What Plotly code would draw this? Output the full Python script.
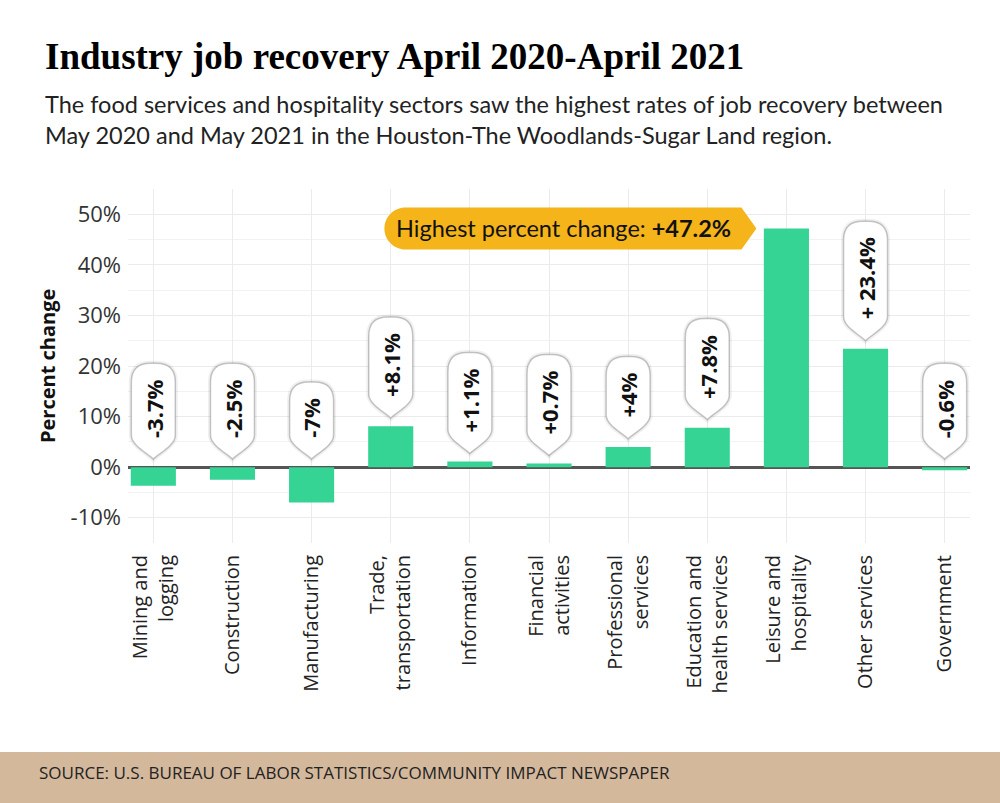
import plotly.graph_objects as go

# data
categories = [
    "Mining and<br>logging", "Construction", "Manufacturing", "Trade,<br>transportation",
    "Information", "Financial<br>activities", "Professional<br>services",
    "Education and<br>health services", "Leisure and<br>hospitality", "Other services", "Government",
]
pct_change = [-3.7, -2.5, -7.0, 8.1, 1.1, 0.7, 4.0, 7.8, 47.2, 23.4, -0.6]
bubble_labels = ["-3.7%", "-2.5%", "-7%", "+8.1%", "+1.1%", "+0.7%", "+4%", "+7.8%", None, "+ 23.4%", "-0.6%"]
highlight_cat = "Leisure and<br>hospitality"
highlight_label = "+47.2%"
y_ticks = [-10, 0, 10, 20, 30, 40, 50]
y_tick_text = ["-10%", "0%", "10%", "20%", "30%", "40%", "50%"]

title = "Industry job recovery April 2020-April 2021"
subtitle = ("The food services and hospitality sectors saw the highest rates of job recovery between<br>"
            "May 2020 and May 2021 in the Houston-The Woodlands-Sugar Land region.")
source = "SOURCE: U.S. BUREAU OF LABOR STATISTICS/COMMUNITY IMPACT NEWSPAPER"

W, H = 1000, 803
ML, MR, MT, MB = 128, 30, 189, 260
PW, PH = W - ML - MR, H - MT - MB

GREEN = "#35D394"
YELLOW = "#F4B41A"
TAN = "#D4B89C"


def px(x):
    return (x - ML) / PW


def py(y):
    return (H - MB - y) / PH


def text_len(s, size):
    w = {"+": 0.57, "-": 0.33, ".": 0.28, " ": 0.27, "%": 0.88}
    return sum(w.get(c, 0.57) for c in s) * size


BFONT = 22
shapes = []
annotations = []

# pin-shaped value bubbles
for cat, v, lab in zip(categories, pct_change, bubble_labels):
    if lab is None:
        continue
    base = max(v, 0)
    g = 8
    h = text_len(lab, BFONT) + 38
    w = 22
    r = 19
    top = g + h
    path = (f"M {-w},{g+24} L {-w},{top-r} Q {-w},{top} {-w+r},{top} "
            f"L {w-r},{top} Q {w},{top} {w},{top-r} L {w},{g+24} "
            f"C {w},{g+14} 6,{g+6} 0,{g} C -6,{g+6} {-w},{g+14} {-w},{g+24} Z")
    for lw, lc in [(5, "rgba(0,0,0,0.06)"), (1.5, "rgba(0,0,0,0.22)")]:
        shapes.append(dict(type="path", xref="x", yref="y", xsizemode="pixel", ysizemode="pixel",
                           xanchor=cat, yanchor=base, path=path,
                           fillcolor="white", line=dict(color=lc, width=lw)))
    annotations.append(dict(x=cat, y=base, text=f"<b>{lab}</b>", textangle=-90,
                            xanchor="center", yanchor="bottom", yshift=g + 19, showarrow=False,
                            font=dict(family="Open Sans", size=BFONT, color="#111")))

# highlight callout
hv = pct_change[categories.index(highlight_cat)]
k = 11.6
callout = (f"M -381,21 L -45,21 L -30,0 L -45,-21 L -381,-21 "
           f"C {-381-k},-21 -402,{-k} -402,0 C -402,{k} {-381-k},21 -381,21 Z")
shapes.append(dict(type="path", xref="x", yref="y", xsizemode="pixel", ysizemode="pixel",
                   xanchor=highlight_cat, yanchor=hv, path=callout,
                   fillcolor=YELLOW, line=dict(width=0)))
annotations.append(dict(x=highlight_cat, y=hv, text=f"Highest percent change: <b>{highlight_label}</b>",
                        xanchor="right", yanchor="middle", xshift=-53, showarrow=False,
                        font=dict(family="Lato", size=23.5, color="#111")))

# footer band
shapes.append(dict(type="rect", xref="paper", yref="paper", x0=px(0), x1=px(W), y0=py(752), y1=py(H),
                   fillcolor=TAN, line=dict(width=0), layer="below"))

annotations += [
    dict(xref="paper", yref="paper", x=px(43), y=py(34), text=title, xanchor="left", yanchor="top",
         showarrow=False, font=dict(family="Liberation Serif", size=37, color="#000", weight="bold")),
    dict(xref="paper", yref="paper", x=px(43), y=py(88), text=subtitle, xanchor="left", yanchor="top",
         align="left", showarrow=False, font=dict(family="Lato", size=23.5, color="#222")),
    dict(xref="paper", yref="paper", x=px(47), y=py(366), text="<b>Percent change</b>", textangle=-90,
         xanchor="center", yanchor="middle", showarrow=False,
         font=dict(family="Open Sans", size=20, color="#111")),
    dict(xref="paper", yref="paper", x=px(37), y=py(772), text=source, xanchor="left", yanchor="middle",
         showarrow=False, font=dict(family="Open Sans", size=17, color="#222")),
]

fig = go.Figure(go.Bar(x=categories, y=pct_change, marker=dict(color=GREEN, line=dict(width=0)),
                       width=0.57, hoverinfo="skip"))

fig.update_layout(
    width=W, height=H,
    margin=dict(l=ML, r=MR, t=MT, b=MB),
    paper_bgcolor="white", plot_bgcolor="white",
    showlegend=False,
    shapes=shapes,
    annotations=annotations,
    xaxis=dict(range=[-0.32, 10.32], showgrid=True, gridcolor="#ebebeb", gridwidth=1,
               tickangle=-90, tickfont=dict(family="Open Sans", size=20, color="#222"),
               ticklabelstandoff=7, showline=False, ticks="", fixedrange=True),
    yaxis=dict(range=[-15, 55], tickmode="array", tickvals=y_ticks, ticktext=y_tick_text,
               showgrid=True, gridcolor="#ebebeb",
               minor=dict(dtick=5, showgrid=True, gridcolor="#f2f2f2"),
               zeroline=True, zerolinecolor="#555", zerolinewidth=2.5,
               ticklabelstandoff=6,
               tickfont=dict(family="Open Sans", size=22, color="#333"), ticks="", fixedrange=True),
)

fig.write_html("out.html", config={"displayModeBar": False},
               post_script="document.body.style.margin='0';")
